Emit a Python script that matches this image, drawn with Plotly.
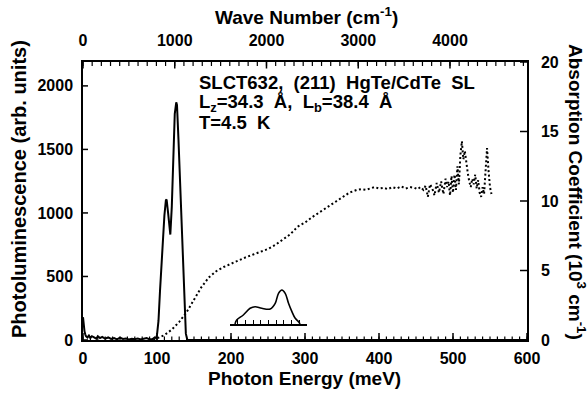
import plotly.graph_objects as go

# ---- photoluminescence spectrum (left axis, arb. units) ----
pl_energy = [0, 1, 2, 3, 4, 6, 8, 10, 12, 15, 18, 20, 23, 26, 30, 34, 38, 42, 46,
             50, 54, 58, 62, 66, 70, 74, 78, 82, 86, 90, 94, 97, 99, 100, 102, 104,
             106, 108, 110, 112, 113, 115, 117, 118, 120, 122, 124, 126, 127, 129,
             131, 133, 135, 137, 139, 141, 150, 600]
pl_counts = [180, 110, 70, 45, 30, 20, 35, 15, 30, 20, 10, 30, 15, 25, 10, 20, 8,
             15, 5, 18, 8, 12, 5, 10, 6, 12, 4, 10, 15, 5, 8, 20, 15, 40, 150, 380,
             600, 820, 980, 1100, 1105, 1000, 840, 830, 1050, 1450, 1780, 1870, 1850,
             1580, 1250, 900, 580, 250, 50, 0, 0, 0]

# ---- absorption coefficient (right axis, 10^3 cm^-1) ----
abs_energy = [95, 100, 110, 120, 130, 140, 150, 160, 170, 180, 190, 200, 210, 220,
              230, 240, 250, 260, 270, 280, 290, 300, 310, 320, 330, 340, 350, 360,
              370, 376, 382, 388, 394, 400, 406, 412, 418, 424, 430, 436, 442, 448,
              452, 456, 460, 463, 466, 469, 472, 475, 478, 481, 484, 487, 490, 492,
              494, 496, 498, 500, 502, 504, 506, 508, 510, 512, 514, 516, 518, 520,
              522, 524, 526, 528, 530, 532, 534, 536, 538, 540, 542, 544, 546, 548,
              550, 552]
abs_coeff = [0.0, 0.1, 0.35, 0.75, 1.3, 2.0, 2.9, 3.8, 4.5, 4.95, 5.25, 5.5, 5.75,
             5.95, 6.15, 6.35, 6.55, 6.85, 7.2, 7.6, 8.15, 8.45, 8.85, 9.2, 9.5, 9.85,
             10.2, 10.6, 10.8, 10.85, 10.8, 10.9, 11.0, 10.9, 10.95, 10.85, 11.0,
             10.9, 11.05, 10.9, 11.0, 10.95, 10.85, 11.0, 10.8, 11.1, 10.3, 11.2,
             10.9, 10.4, 11.3, 10.6, 11.4, 10.5, 11.6, 11.0, 11.4, 10.4, 11.8, 10.6,
             11.9, 10.8, 12.5, 11.2, 13.3, 14.3, 13.0, 13.6, 12.6, 12.0, 11.4, 11.0,
             11.6, 11.2, 11.9, 10.9, 11.5, 10.6, 10.3, 11.0, 10.5, 12.5, 13.8, 12.2,
             11.0, 10.5]

# ---- inset trace (expanded view, 10 divisions) ----
inset_x = [0.65, 0.87, 1.73, 2.61, 3.26, 4.13, 5.22, 5.87, 6.3, 6.74, 7.17, 7.6,
           8.04, 8.47, 8.9, 9.1]
inset_y = [0, 4, 9, 15.7, 17.3, 15.7, 15, 20.7, 30.7, 34, 30.7, 20.7, 12.3, 5.7,
           2.3, 0]

# axis scales and tick values
MEV_PER_CM = 0.12398          # energy (meV) -> wavenumber (cm^-1)
E_MAX = 600
WN_MAX = E_MAX / MEV_PER_CM
PL_MAX = 2188
ABS_MAX = 20
energy_ticks = list(range(0, 601, 100))
energy_minor = list(range(0, 601, 10))
wn_ticks = list(range(0, 4001, 1000))
wn_minor = list(range(0, 4801, 100))
pl_ticks = list(range(0, 2001, 500))
abs_ticks = list(range(0, 21, 5))

FONT = "Liberation Sans, Arial, sans-serif"
W, H = 588, 393
L, R, T, B = 83, 527, 62, 340
PX_X = E_MAX / (R - L)        # meV per pixel
PX_PL = PL_MAX / (B - T)      # PL units per pixel
PX_ABS = ABS_MAX / (B - T)    # absorption units per pixel


def fx(px):
    """pixel column -> paper x"""
    return (px - L) / (R - L)


def fy(py):
    """pixel row -> paper y"""
    return (B - py) / (B - T)


fig = go.Figure()

fig.add_trace(go.Scatter(x=pl_energy, y=pl_counts, mode="lines",
                         line=dict(color="black", width=2),
                         xaxis="x", yaxis="y", showlegend=False))
fig.add_trace(go.Scatter(x=abs_energy, y=abs_coeff, mode="lines",
                         line=dict(color="black", width=2, dash="2px,2.5px"),
                         xaxis="x", yaxis="y2", showlegend=False))
fig.add_trace(go.Scatter(x=inset_x, y=inset_y, mode="lines",
                         line=dict(color="black", width=1.6, shape="spline"),
                         xaxis="x3", yaxis="y3", showlegend=False))


# Frame tick marks drawn as short inward segments on the data axes.
def seg_trace(xs, ys, width, yaxis):
    fig.add_trace(go.Scatter(x=xs, y=ys, mode="lines", xaxis="x", yaxis=yaxis,
                             line=dict(color="black", width=width),
                             cliponaxis=False, showlegend=False,
                             hoverinfo="skip"))


def vertical_ticks(positions, y0, y1, width, yaxis="y"):
    xs, ys = [], []
    for p in positions:
        xs += [p, p, None]
        ys += [y0, y1, None]
    seg_trace(xs, ys, width, yaxis)


def horizontal_ticks(positions, x0, x1, width, yaxis):
    xs, ys = [], []
    for p in positions:
        xs += [x0, x1, None]
        ys += [p, p, None]
    seg_trace(xs, ys, width, yaxis)


# bottom (energy) and top (wavenumber) edges
vertical_ticks(energy_minor, 0, 3.5 * PX_PL, 1.2)
vertical_ticks(energy_ticks, 0, 7 * PX_PL, 1.5)
wn_minor_e = [w * MEV_PER_CM for w in wn_minor]
wn_ticks_e = [w * MEV_PER_CM for w in wn_ticks]
vertical_ticks(wn_minor_e, PL_MAX, PL_MAX - 4 * PX_PL, 1.2)
vertical_ticks(wn_ticks_e, PL_MAX, PL_MAX - 6.5 * PX_PL, 1.5)
# left (PL) and right (absorption) edges
horizontal_ticks(pl_ticks, 0, 5 * PX_X, 1.5, "y")
horizontal_ticks(abs_ticks, E_MAX, E_MAX - 7 * PX_X, 1.5, "y2")

tickfont = dict(family=FONT, size=16, color="black", weight="bold")


def label_axis(**kw):
    base = dict(showline=True, linecolor="black", linewidth=1.5,
                showgrid=False, zeroline=False, ticks="",
                tickfont=tickfont, domain=[0, 1])
    base.update(kw)
    return base


# empty trace so the wavenumber axis gets drawn
fig.add_trace(go.Scatter(x=[0], y=[None], xaxis="x2", yaxis="y",
                         showlegend=False, hoverinfo="skip"))

fig.update_layout(
    width=W, height=H,
    margin=dict(l=L, r=W - R, t=T, b=H - B, autoexpand=False),
    paper_bgcolor="white", plot_bgcolor="white",
    xaxis=label_axis(range=[0, E_MAX], anchor="y", tickvals=energy_ticks,
                     ticklabelstandoff=3),
    xaxis2=label_axis(range=[0, WN_MAX], side="top", anchor="y",
                      overlaying="x", tickvals=wn_ticks, ticklabelstandoff=8),
    yaxis=label_axis(range=[0, PL_MAX], anchor="x", tickvals=pl_ticks,
                     ticklabelstandoff=5),
    yaxis2=label_axis(range=[0, ABS_MAX], side="right", anchor="x",
                      overlaying="y", tickvals=abs_ticks, ticklabelstandoff=9),
    # inset axis with its own division marks
    xaxis3=dict(domain=[fx(230), fx(307)], anchor="y3", range=[0, 10],
                showline=True, linecolor="black", linewidth=1.5,
                showgrid=False, zeroline=False, ticks="inside",
                tickvals=[0, 10], ticklen=9, tickwidth=1.5, tickcolor="black",
                showticklabels=False,
                minor=dict(tickvals=list(range(0, 11)), ticklen=4,
                           ticks="inside", tickcolor="black", tickwidth=1.2)),
    yaxis3=dict(domain=[fy(324), fy(284)], anchor="x3", range=[0, 40],
                visible=False),
)

title_font = dict(family=FONT, size=19, color="black", weight="bold")
text_font = dict(family=FONT, size=18.5, color="black", weight="bold")

annotations = [
    dict(text="Wave Number (cm<sup>-1</sup>)", x=fx(306), y=fy(16),
         font=title_font),
    dict(text="Photon Energy (meV)", x=fx(304), y=fy(378), font=title_font),
    dict(text="Photoluminescence (arb. units)", x=fx(19), y=fy(189),
         textangle=-90, font=dict(title_font, size=20)),
    dict(text="Absorption Coefficient (10<sup>3</sup> cm<sup>-1</sup>)",
         x=fx(577), y=fy(192), textangle=90, font=title_font),
    dict(text="SLCT632,  (211)  HgTe/CdTe  SL", x=fx(197), y=fy(82),
         xanchor="left", font=text_font),
    dict(text="L<sub>z</sub>=34.3  Å,  L<sub>b</sub>=38.4  Å", x=fx(197),
         y=fy(103), xanchor="left", font=text_font),
    dict(text="T=4.5  K", x=fx(197), y=fy(122), xanchor="left",
         font=text_font),
]
for a in annotations:
    a.setdefault("xanchor", "center")
    fig.add_annotation(xref="paper", yref="paper", yanchor="middle",
                       showarrow=False, **a)

fig.write_html("out.html")
